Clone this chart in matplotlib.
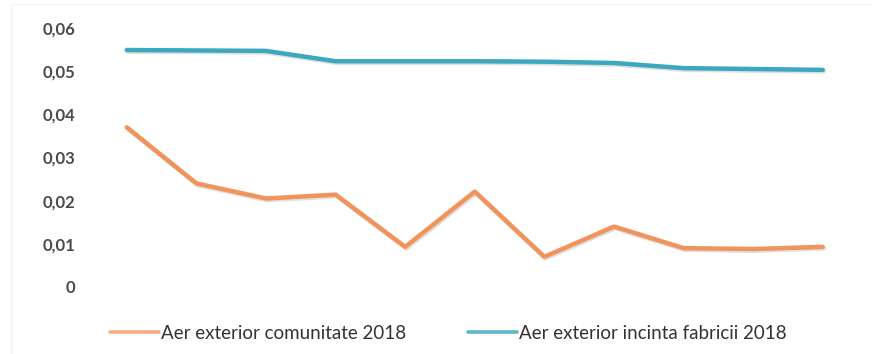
import numpy as np
import matplotlib.pyplot as plt
import matplotlib.patheffects as pe
from matplotlib.patches import Rectangle

plt.rcParams['font.family'] = ['Lato', 'DejaVu Sans']

# valori masurate (11 puncte)
puncte = np.arange(11)
comunitate = [0.037, 0.024, 0.0205, 0.0214, 0.0093, 0.0221, 0.0070, 0.0140, 0.0090, 0.0088, 0.0093]
fabrica = [0.0549, 0.0548, 0.0547, 0.0523, 0.0523, 0.0523, 0.0522, 0.0519, 0.0507, 0.0505, 0.0503]
etichete_y = ["0", "0,01", "0,02", "0,03", "0,04", "0,05", "0,06"]
nume = ["Aer exterior comunitate 2018", "Aer exterior incinta fabricii 2018"]

fig = plt.figure(figsize=(8.72, 3.54), dpi=100)

# chenar foarte discret in jurul graficului
fig.patches.append(Rectangle((0.0126, -0.01), 0.995, 0.998, transform=fig.transFigure,
                             fill=False, edgecolor="#f4f4f4", lw=1.0))

ax = fig.add_axes([0.1055, 0.1893, 0.878, 0.7316])

umbra = [pe.SimpleLineShadow(offset=(0.8, -1.2), alpha=0.25, shadow_color="gray"), pe.Normal()]
ax.plot(puncte, comunitate, color="#F2935C", lw=3.2, label=nume[0],
        solid_capstyle="round", path_effects=umbra)
ax.plot(puncte, fabrica, color="#3BA8BE", lw=3.2, label=nume[1],
        solid_capstyle="round", path_effects=umbra)

ax.set_xlim(-0.5, 10.5)
ax.set_ylim(0, 0.06)
ax.set_yticks(np.arange(0, 0.061, 0.01))
ax.set_yticklabels(etichete_y, fontsize=12, fontweight="bold", color="#4a4a4a")
ax.set_xticks([])
ax.tick_params(axis="y", length=0, pad=12)
for s in ax.spines.values():
    s.set_visible(False)

leg = fig.legend(loc="center", bbox_to_anchor=(0.514, 0.058), ncol=2, frameon=False,
                 fontsize=13.5, handlelength=2.6, handletextpad=0.1, columnspacing=3.3)
for t in leg.get_texts():
    t.set_color("#333333")
for h, c in zip(leg.get_lines(), ["#F6AE80", "#5DB8CB"]):
    h.set_linewidth(2.6)
    h.set_color(c)
    h.set_path_effects([])

fig.savefig("out.png", dpi=100)
